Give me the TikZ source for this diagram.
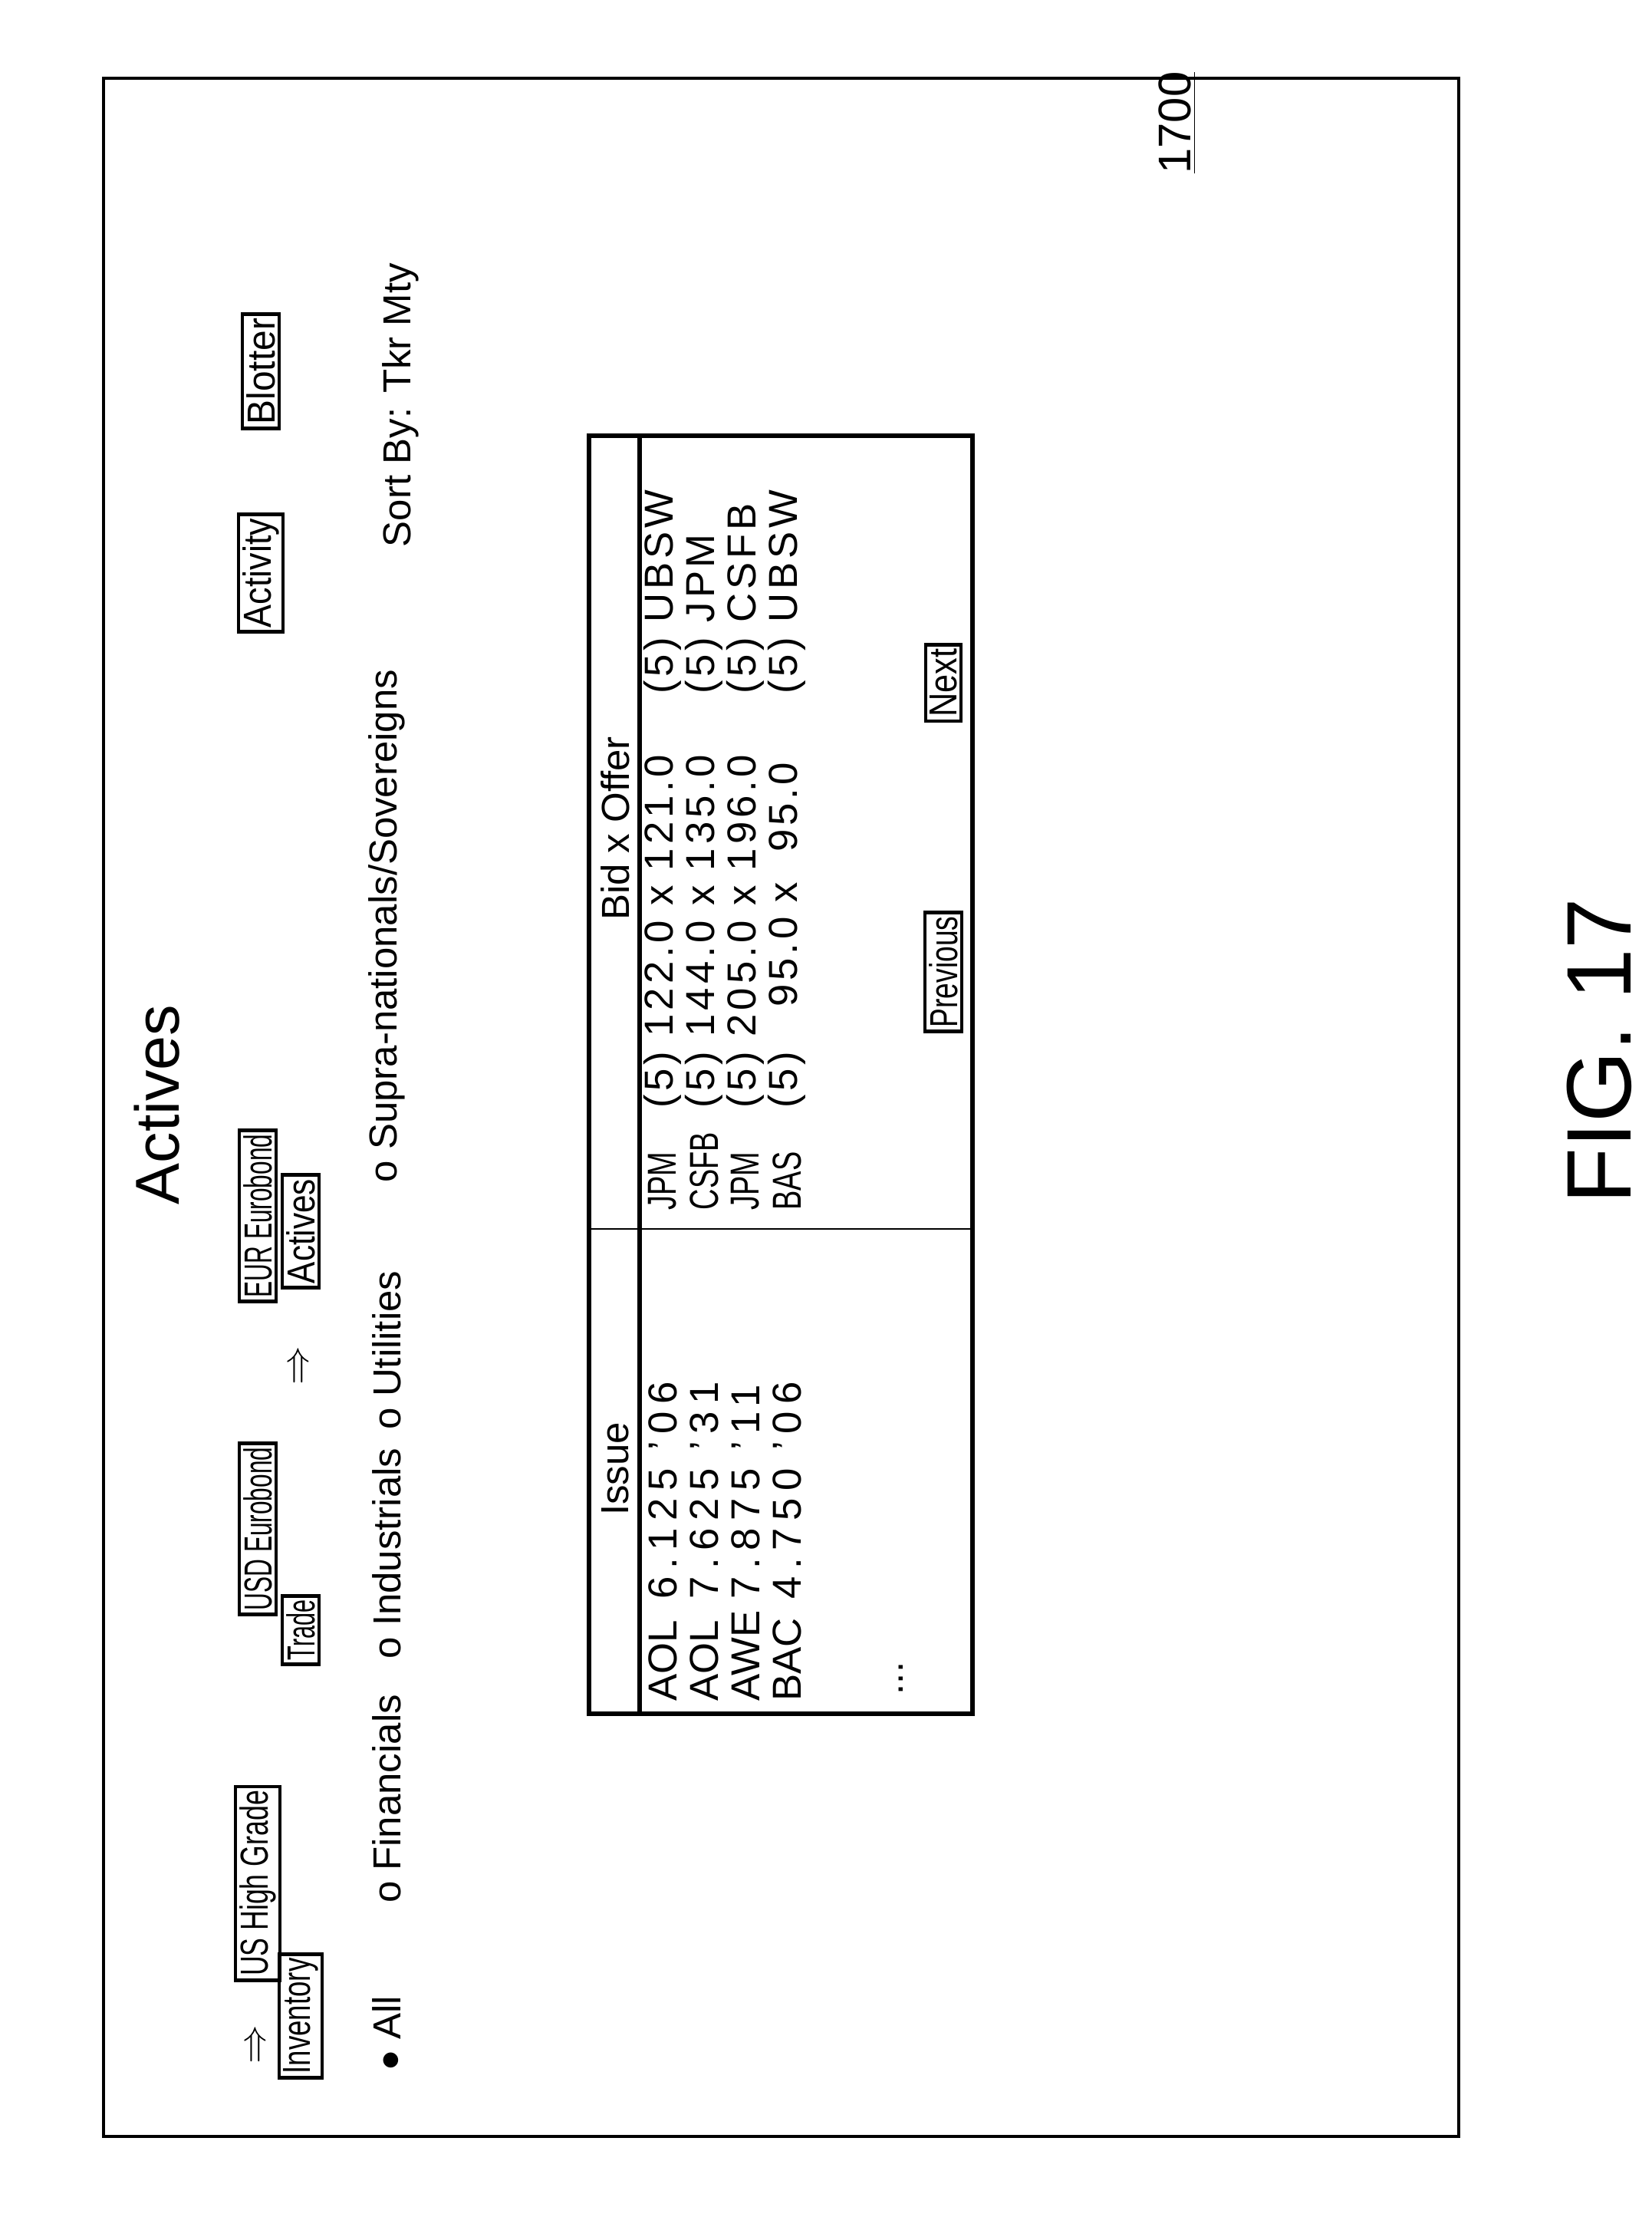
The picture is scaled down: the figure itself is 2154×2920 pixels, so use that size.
\documentclass[tikz,border=0pt]{standalone}
\usepackage{graphicx}
\usepackage{fontspec}
\setmainfont{Liberation Sans}
\newcommand{\hs}[2]{\scalebox{#1}[1]{#2}}
\newcommand{\ls}[2]{{\addfontfeature{LetterSpace=#1}#2}}
\begin{document}
\begin{tikzpicture}[x=0.1mm,y=-0.1mm,
  txt/.style={rotate=90,font=\fontsize{14.5}{16}\selectfont,inner sep=0pt},
  btn/.style={txt,draw,line width=1.3pt,inner sep=1.5pt},
  cell/.style={txt,anchor=west,font=\fontsize{15}{17}\selectfont}]
\useasboundingbox (0,0) rectangle (2154,2920);
\draw[line width=1pt] (135,102) rectangle (1902,2785);
\node[txt,font=\fontsize{23}{26}\selectfont] (title) at (205,1440) {Actives};
\node[txt,font=\fontsize{17}{19}\selectfont] (num) at (1535,160) {\underline{1700}};
\node[txt] (ar1) at (336,2665) {$\Rightarrow$};
\node[btn] (ushg) at (336,2455) {\hs{0.7}{US High Grade}};
\node[btn] (usd) at (336,1993) {\hs{0.62}{USD Eurobond}};
\node[btn] (eur) at (336,1585) {\hs{0.62}{EUR Eurobond}};
\node[btn] (act) at (340,747) {\hs{0.88}{Activity}};
\node[btn] (blot) at (340,484) {\hs{0.94}{Blotter}};
\node[btn] (inv) at (392,2628) {\hs{0.72}{Inventory}};
\node[btn] (trade) at (392,2125) {\hs{0.6}{Trade}};
\node[txt] (ar2) at (392,1780) {$\Rightarrow$};
\node[btn] (actv) at (392,1605) {\hs{0.83}{Actives}};
\node[txt] (all) at (504,2650) {$\bullet$ All};
\node[txt] (fin) at (504,2345) {o Financials};
\node[txt] (ind) at (504,2025) {o Industrials};
\node[txt] (util) at (504,1760) {o Utilities};
\node[txt] (supra) at (504,1207) {o Supra-nationals/Sovereigns};
\node[txt] (sort) at (522,528) {Sort By: Tkr Mty};
% table
\draw[line width=1.6pt] (768,568) rectangle (1268,2234);
\draw[line width=1.6pt] (834,568) -- (834,2234);
\draw[line width=0.8pt] (768,1602) -- (1268,1602);
\node[txt] (hiss) at (802,1915) {Issue};
\node[txt] (hbid) at (802,1080) {Bid x Offer};
\foreach \r/\t/\i/\d/\b/\o in {864/AOL/6.125 '06/JPM/(5) 122.0 x 121.0/(5) UBSW,
  918/AOL/7.625 '31/CSFB/(5) 144.0 x 135.0/(5) JPM,
  972/AWE/7.875 '11/JPM/(5) 205.0 x 196.0/(5) CSFB,
  1026/BAC/4.750 '06/BAS/(5)\ \ \ 95.0 x\ \ 95.0/(5) UBSW}{
  \node[cell] (t\r) at (\r,2218) {\t};
  \node[cell] (i\r) at (\r,2085) {\ls{18}{\i}};
  \node[cell] (d\r) at (\r,1578) {\hs{0.72}{\d}};
  \node[cell] (b\r) at (\r,1445) {\ls{9}{\b}};
  \node[cell] (o\r) at (\r,905) {\ls{9}{\o}};
}
\node[txt] (dots) at (1175,2188) {...};
\node[btn] (prev) at (1230,1267) {\hs{0.73}{Previous}};
\node[btn] (next) at (1230,890) {\hs{0.85}{Next}};
\node[txt,font=\fontsize{34}{38}\selectfont] (fig) at (2085,1370) {FIG. 17};
\end{tikzpicture}
\end{document}
